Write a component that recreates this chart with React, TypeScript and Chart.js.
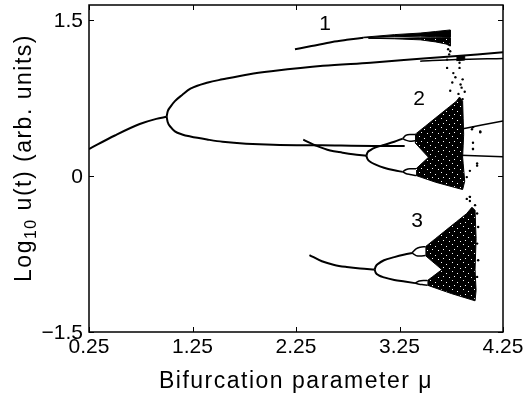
import React, { useEffect, useRef } from 'react';
import { Chart, registerables } from 'chart.js';

Chart.register(...registerables);

// ---------- axis ticks ----------
const X_TICKS = [0.25, 1.25, 2.25, 3.25, 4.25];
const X_TICK_LABELS = ['0.25', '1.25', '2.25', '3.25', '4.25'];
const Y_TICKS = [-1.5, 0, 1.5];
const Y_TICK_LABELS = ['\u22121.5', '0', '1.5'];
const X_TITLE = 'Bifurcation parameter \u03bc';
const Y_TITLE_PARTS = ['Log', '10', ' u(t) (arb. units)'];

// ---------- main diagram ----------
const mainStemX = [0.25, 0.5, 0.74, 0.9, 1.0];
const mainStemY = [0.26, 0.39, 0.5, 0.55, 0.57];
const mainUpperX = [1.0, 1.01, 1.04, 1.08, 1.15, 1.23, 1.4, 1.54, 1.8, 2.03, 2.51, 2.97, 3.48, 4.0, 4.25];
const mainUpperY = [0.57, 0.62, 0.67, 0.72, 0.78, 0.84, 0.9, 0.93, 0.98, 1.01, 1.06, 1.09, 1.13, 1.17, 1.19];
const mainLowerX = [1.0, 1.01, 1.04, 1.08, 1.15, 1.23, 1.4, 1.54, 2.03, 2.5, 3.0, 3.3];
const mainLowerY = [0.57, 0.52, 0.47, 0.43, 0.4, 0.38, 0.35, 0.33, 0.3, 0.295, 0.29, 0.29];
const mainSideX = [3.45, 3.8, 4.25];
const mainSideY = [1.105, 1.12, 1.13];
const mainBoxX = [3.8, 3.88, 3.88, 3.8];
const mainBoxY = [1.11, 1.115, 1.16, 1.155];

// ---------- diagram 1 ----------
const d1StemX = [2.24, 2.4, 2.6, 2.74, 2.9];
const d1StemY = [1.22, 1.25, 1.29, 1.31, 1.33];
const d1FanTopX = [2.9, 3.2, 3.45, 3.6, 3.74, 3.74, 3.6, 3.45, 3.2, 2.9];
const d1FanTopY = [1.335, 1.36, 1.375, 1.39, 1.405, 1.335, 1.34, 1.345, 1.34, 1.33];
const d1FanBotX = [2.95, 3.2, 3.45, 3.6, 3.74, 3.74, 3.7, 3.6, 3.45, 3.2, 2.95];
const d1FanBotY = [1.325, 1.325, 1.33, 1.33, 1.33, 1.25, 1.27, 1.29, 1.31, 1.32, 1.325];

// ---------- diagram 2 ----------
const d2StemX = [2.32, 2.45, 2.58, 2.7, 2.8, 2.93];
const d2StemY = [0.35, 0.29, 0.245, 0.225, 0.21, 0.195];
const d2UpperX = [2.93, 2.94, 2.97, 3.02, 3.1, 3.2, 3.28];
const d2UpperY = [0.195, 0.225, 0.25, 0.275, 0.3, 0.33, 0.36];
const d2LowerX = [2.93, 2.94, 2.97, 3.02, 3.1, 3.2, 3.28];
const d2LowerY = [0.195, 0.165, 0.135, 0.11, 0.08, 0.055, 0.04];
const d2BubAX = [3.28, 3.31, 3.35, 3.4];
const d2BubATopY = [0.36, 0.39, 0.4, 0.4];
const d2BubABotY = [0.36, 0.345, 0.335, 0.34];
const d2BubBX = [3.28, 3.31, 3.35, 3.41];
const d2BubBTopY = [0.04, 0.06, 0.07, 0.07];
const d2BubBBotY = [0.04, 0.025, 0.015, 0.005];
const d2FanUpX = [3.4, 3.5, 3.6, 3.7, 3.8, 3.83, 3.86, 3.87, 3.86, 3.53, 3.4];
const d2FanUpY = [0.4, 0.48, 0.56, 0.64, 0.72, 0.76, 0.72, 0.4, 0.18, 0.18, 0.32];
const d2FanLoX = [3.41, 3.53, 3.86, 3.88, 3.86, 3.6, 3.41];
const d2FanLoY = [0.07, 0.18, 0.18, -0.05, -0.13, -0.06, 0.005];
const d2RightAX = [3.84, 4.25];
const d2RightAY = [0.45, 0.53];
const d2RightBX = [3.84, 4.25];
const d2RightBY = [0.2, 0.185];

// ---------- diagram 3 ----------
const d3StemX = [2.38, 2.5, 2.62, 2.74, 2.87, 3.01];
const d3StemY = [-0.76, -0.82, -0.855, -0.875, -0.89, -0.9];
const d3UpperX = [3.01, 3.02, 3.05, 3.1, 3.2, 3.3, 3.37];
const d3UpperY = [-0.9, -0.87, -0.84, -0.81, -0.78, -0.755, -0.74];
const d3LowerX = [3.01, 3.02, 3.05, 3.1, 3.2, 3.3, 3.4];
const d3LowerY = [-0.9, -0.93, -0.955, -0.975, -1.0, -1.015, -1.03];
const d3BubAX = [3.37, 3.41, 3.45, 3.5];
const d3BubATopY = [-0.74, -0.7, -0.685, -0.68];
const d3BubABotY = [-0.74, -0.765, -0.77, -0.765];
const d3BubBX = [3.4, 3.44, 3.48, 3.52];
const d3BubBTopY = [-1.03, -1.01, -1.005, -1.005];
const d3BubBBotY = [-1.03, -1.04, -1.045, -1.05];
const d3FanUpX = [3.5, 3.6, 3.7, 3.8, 3.9, 3.95, 3.98, 3.99, 3.98, 3.66, 3.5];
const d3FanUpY = [-0.68, -0.6, -0.52, -0.44, -0.36, -0.3, -0.33, -0.6, -0.9, -0.9, -0.765];
const d3FanLoX = [3.52, 3.66, 3.98, 3.99, 3.98, 3.75, 3.52];
const d3FanLoY = [-1.005, -0.9, -0.9, -1.1, -1.2, -1.13, -1.05];

// ---------- scattered iterates ----------
const dotsX = [3.71, 3.77, 3.83, 3.86, 3.85, 3.82, 3.74, 3.86, 3.95, 4.03, 3.96, 3.96, 4.0, 3.93, 3.9, 3.93,
  3.96, 4.03, 3.96, 4.0, 3.9, 3.93, 3.93, 3.98, 4.0, 4.01, 4.0, 4.01, 4.0, 3.72, 3.74, 3.73, 3.71, 3.83, 3.95,
  3.79, 3.84, 3.88, 3.76];
const dotsY = [1.04, 0.99, 1.04, 0.93, 0.85, 0.79, 0.82, 0.74, 0.45, 0.42, 0.32, 0.26, 0.12, 0.05, -0.22, -0.2,
  0.47, 0.43, 0.26, 0.1, -0.01, -0.2, -0.24, -0.28, -0.36, -0.49, -0.65, -0.81, -0.97, 1.22, 1.2, 1.17, 1.12, 1.09, -0.32,
  0.95, 0.88, 0.81, 0.9];

// ---------- annotations ----------
const labelText = ['1', '2', '3'];
const labelX = [2.53, 3.44, 3.42];
const labelY = [1.46, 0.74, -0.43];

const FONT = "'Liberation Sans', Arial, Helvetica, sans-serif";

const zip = (xs: number[], ys: number[]) => xs.map((x, i) => ({ x, y: ys[i] }));

function curve(xs: number[], ys: number[]) {
  return {
    data: zip(xs, ys), showLine: true, borderColor: '#000', borderWidth: 2, pointRadius: 0,
    cubicInterpolationMode: 'monotone', fill: false,
  } as any;
}

function thin(xs: number[], ys: number[]) {
  return {
    data: zip(xs, ys), showLine: true, borderColor: '#000', borderWidth: 1.5, pointRadius: 0,
    cubicInterpolationMode: 'monotone', fill: false,
  } as any;
}

function region(xs: number[], ys: number[], bg: any) {
  return {
    data: zip(xs, ys), showLine: true, borderColor: '#000', borderWidth: 1, pointRadius: 0,
    tension: 0, fill: 'shape', backgroundColor: bg,
  } as any;
}

function makeSpeckle(ctx: CanvasRenderingContext2D): any {
  const c = document.createElement('canvas');
  c.width = 11; c.height = 9;
  const g = c.getContext('2d')!;
  g.fillStyle = '#000';
  g.fillRect(0, 0, 11, 9);
  g.fillStyle = '#fff';
  [[1, 1], [6, 3], [3, 6], [9, 7]].forEach(([x, y]) => g.fillRect(x, y, 1, 1));
  return ctx.createPattern(c, 'repeat') || '#000';
}

const framePlugin = {
  id: 'frame',
  afterDraw(chart: any) {
    const { ctx, chartArea: a, scales } = chart;
    const xs = scales.x, ys = scales.y;
    ctx.save();
    ctx.strokeStyle = '#000';
    ctx.lineWidth = 1.5;
    ctx.strokeRect(a.left, a.top, a.right - a.left, a.bottom - a.top);
    ctx.lineWidth = 1;
    const tl = 5;
    ctx.beginPath();
    X_TICKS.forEach((v) => {
      const px = Math.round(xs.getPixelForValue(v)) + 0.5;
      ctx.moveTo(px, a.bottom); ctx.lineTo(px, a.bottom - tl);
      ctx.moveTo(px, a.top); ctx.lineTo(px, a.top + tl);
    });
    Y_TICKS.forEach((v) => {
      const py = Math.round(ys.getPixelForValue(v)) + 0.5;
      ctx.moveTo(a.left, py); ctx.lineTo(a.left + tl, py);
      ctx.moveTo(a.right, py); ctx.lineTo(a.right - tl, py);
    });
    ctx.stroke();

    ctx.fillStyle = '#000';

    // tick labels
    ctx.font = `21px ${FONT}`;
    ctx.textAlign = 'center';
    ctx.textBaseline = 'top';
    X_TICKS.forEach((v, i) => ctx.fillText(X_TICK_LABELS[i], xs.getPixelForValue(v), a.bottom + 5));
    ctx.textAlign = 'right';
    ctx.textBaseline = 'middle';
    Y_TICKS.forEach((v, i) => ctx.fillText(Y_TICK_LABELS[i], a.left - 6, ys.getPixelForValue(v) + 1));

    // region labels
    ctx.font = `21px ${FONT}`;
    ctx.textAlign = 'center';
    ctx.textBaseline = 'middle';
    labelText.forEach((t, i) => {
      ctx.fillText(t, xs.getPixelForValue(labelX[i]), ys.getPixelForValue(labelY[i]));
    });

    // x-axis title
    (ctx as any).letterSpacing = '1.5px';
    ctx.font = `23px ${FONT}`;
    ctx.textAlign = 'center';
    ctx.textBaseline = 'alphabetic';
    ctx.fillText(X_TITLE, (a.left + a.right) / 2, 388);

    // y-axis title with subscript
    const big = `23px ${FONT}`;
    const small = `16px ${FONT}`;
    const [p1, p2, p3] = Y_TITLE_PARTS;
    ctx.font = big; const w1 = ctx.measureText(p1).width; const w3 = ctx.measureText(p3).width;
    ctx.font = small; const w2 = ctx.measureText(p2).width;
    const total = w1 + w2 + w3;
    ctx.translate(31, 158);
    ctx.rotate(-Math.PI / 2);
    ctx.textAlign = 'left';
    let x0 = -total / 2;
    ctx.font = big; ctx.fillText(p1, x0, 0); x0 += w1;
    ctx.font = small; ctx.fillText(p2, x0, 5); x0 += w2;
    ctx.font = big; ctx.fillText(p3, x0, 0);
    ctx.restore();
  },
};

export default function App() {
  const ref = useRef<HTMLCanvasElement>(null);
  useEffect(() => {
    const canvas = ref.current!;
    const ctx = canvas.getContext('2d')!;
    const speckle = makeSpeckle(ctx);
    const chart = new Chart(ctx, {
      type: 'scatter',
      data: {
        datasets: [
          curve(mainStemX, mainStemY), curve(mainUpperX, mainUpperY), curve(mainLowerX, mainLowerY),
          thin(mainSideX, mainSideY), region(mainBoxX, mainBoxY, '#000'),
          curve(d1StemX, d1StemY), region(d1FanTopX, d1FanTopY, '#000'), region(d1FanBotX, d1FanBotY, speckle),
          curve(d2StemX, d2StemY), curve(d2UpperX, d2UpperY), curve(d2LowerX, d2LowerY),
          thin(d2BubAX, d2BubATopY), thin(d2BubAX, d2BubABotY), thin(d2BubBX, d2BubBTopY), thin(d2BubBX, d2BubBBotY),
          region(d2FanUpX, d2FanUpY, speckle), region(d2FanLoX, d2FanLoY, speckle),
          thin(d2RightAX, d2RightAY), thin(d2RightBX, d2RightBY),
          curve(d3StemX, d3StemY), curve(d3UpperX, d3UpperY), curve(d3LowerX, d3LowerY),
          thin(d3BubAX, d3BubATopY), thin(d3BubAX, d3BubABotY), thin(d3BubBX, d3BubBTopY), thin(d3BubBX, d3BubBBotY),
          region(d3FanUpX, d3FanUpY, speckle), region(d3FanLoX, d3FanLoY, speckle),
          { data: zip(dotsX, dotsY), showLine: false, pointRadius: 1.2, pointBackgroundColor: '#000', pointBorderWidth: 0 } as any,
        ],
      },
      options: {
        responsive: false,
        animation: false,
        events: [],
        layout: { padding: { left: 0, right: 22, top: 5, bottom: 0 } },
        plugins: { legend: { display: false }, tooltip: { enabled: false } },
        scales: {
          x: {
            type: 'linear', min: 0.25, max: 4.25,
            afterBuildTicks: (s: any) => { s.ticks = X_TICKS.map((v) => ({ value: v })); },
            afterFit: (s: any) => { s.height = 67; s.paddingLeft = 0; s.paddingRight = 0; },
            grid: { display: false }, border: { display: false },
            ticks: { display: false },
          },
          y: {
            type: 'linear', min: -1.5, max: 1.645,
            afterBuildTicks: (s: any) => { s.ticks = Y_TICKS.map((v) => ({ value: v })); },
            afterFit: (s: any) => { s.width = 89; s.paddingTop = 0; s.paddingBottom = 0; },
            grid: { display: false }, border: { display: false },
            ticks: { display: false },
          },
        },
      },
      plugins: [framePlugin],
    } as any);
    return () => chart.destroy();
  }, []);
  return (
    <div style={{ position: 'fixed', left: 0, top: 0, width: 525, height: 399, background: '#fff' }}>
      <canvas ref={ref} width={525} height={399} style={{ width: 525, height: 399, display: 'block' }} />
    </div>
  );
}
